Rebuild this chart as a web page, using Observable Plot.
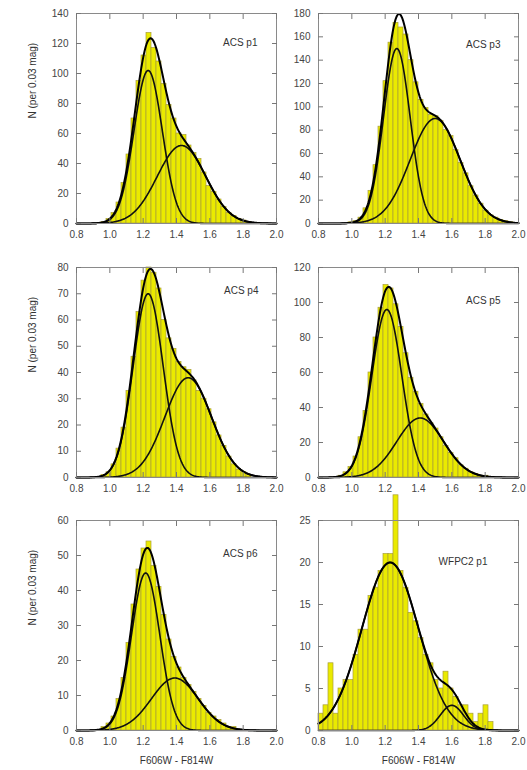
<!DOCTYPE html>
<html><head><meta charset="utf-8">
<script src="https://cdn.jsdelivr.net/npm/d3@7"></script>
<script src="https://cdn.jsdelivr.net/npm/@observablehq/plot@0.6"></script>
<style>
body{margin:0;background:#fff;}
#wrap{position:relative;width:527px;height:770px;overflow:hidden;font-family:"Liberation Sans",Arial,sans-serif;}
.panel{position:absolute;}
.panel svg{overflow:visible;}
</style></head><body><div id="wrap"></div>
<script>
// ---------- data ----------
const binLo = 0.8, binWidth = 0.03;
const xTicks = [0.8, 1.0, 1.2, 1.4, 1.6, 1.8, 2.0];
const xLabel = "F606W - F814W";
const yLabel = "N (per 0.03 mag)";
const panelNames = ["ACS p1", "ACS p3", "ACS p4", "ACS p5", "ACS p6", "WFPC2 p1"];
const yMax  = [140, 180, 80, 120, 60, 25];
const yStep = [20, 20, 10, 20, 10, 5];

// histogram counts, bins of 0.03 mag starting at 0.80
const countsP1 = [0,0,0,0,0,1,3,7,14,27,46,70,95,112,127,117,108,93,79,70,60,59,52,47,43,34,25,21,16,11,7,5,3,2,1,0,0,0,0,0];
const countsP3 = [0,0,0,0,0,0,1,2,5,13,28,50,83,122,155,172,168,162,140,121,106,99,93,92,88,80,75,63,52,43,32,24,17,11,7,5,3,2,1,0];
const countsP4 = [0,0,0,0,0,1,2,5,11,19,33,46,63,75,80,78,72,60,53,49,44,42,41,37,33,30,26,21,16,12,8,5,3,2,1,0,0,0,0,0];
const countsP5 = [0,0,0,0,1,3,6,12,23,38,60,80,97,110,108,99,86,71,57,49,42,36,31,28,23,18,14,11,7,5,3,2,1,1,0,0,0,0,0,0];
const countsP6 = [0,0,0,0,0,1,2,4,9,15,25,36,46,52,54,47,41,33,26,21,18,15,13,11,9,7,5,4,3,2,1,1,0,0,0,0,0,0,0,0];
const countsW1 = [2,3,8,2,5,6,6,9,12,12,16,17,19,21,21,28,19,17,14,13,11,9,8,6,5,7,5,4,3,3,2,1,2,3,1,0,0,0,0,0];

// two-Gaussian fits (peak height, mean, sigma)
const comp1Peak  = [102, 150, 70, 96, 45, 20];
const comp1Mean  = [1.23, 1.27, 1.23, 1.21, 1.215, 1.23];
const comp1Sigma = [0.085, 0.08, 0.09, 0.09, 0.085, 0.17];
const comp2Peak  = [52, 90, 38, 34, 15, 3];
const comp2Mean  = [1.43, 1.50, 1.47, 1.41, 1.39, 1.60];
const comp2Sigma = [0.145, 0.15, 0.14, 0.14, 0.14, 0.07];

const allCounts = [countsP1, countsP3, countsP4, countsP5, countsP6, countsW1];

// ---------- layout ----------
const colLeft = [0, 290], colML = [76, 28], colMR = [14, 9];
const rowTop = [0, 243, 497], rowMT = [13, 24, 23], rowMB = [20, 20, 40];
const labelOff = [[19, 32], [18, 34], [18, 26], [18, 36], [19, 36], [31, 44]];
const font = "'Liberation Sans', Arial, sans-serif";
const wrap = document.getElementById("wrap");

function gauss(a, m, s) { return x => a * Math.exp(-((x - m) ** 2) / (2 * s * s)); }

for (let k = 0; k < 6; k++) {
  const col = k % 2, row = Math.floor(k / 2);
  const bars = allCounts[k].map((n, i) => ({x1: binLo + i * binWidth, x2: binLo + (i + 1) * binWidth, n}));
  const f1 = gauss(comp1Peak[k], comp1Mean[k], comp1Sigma[k]);
  const f2 = gauss(comp2Peak[k], comp2Mean[k], comp2Sigma[k]);
  const curve = d3.range(0.8, 2.0001, 0.004).map(x => ({x, c1: f1(x), c2: f2(x), sum: f1(x) + f2(x)}));
  const yTicks = d3.range(0, yMax[k] + 1e-9, yStep[k]);
  const ml = colML[col], mr = colMR[col], mt = rowMT[row], mb = rowMB[row];
  const marks = [
    Plot.rectY(bars, {x1: "x1", x2: "x2", y: "n", fill: "#eaea00", stroke: "#a89e3a", strokeWidth: 0.7}),
    Plot.line(curve, {x: "x", y: "c1", stroke: "#111", strokeWidth: 1.6}),
    Plot.line(curve, {x: "x", y: "c2", stroke: "#111", strokeWidth: 1.6}),
    Plot.line(curve, {x: "x", y: "sum", stroke: "#000", strokeWidth: 2}),
    Plot.frame({stroke: "#8a8a8a", strokeWidth: 1}),
    Plot.axisX(xTicks, {anchor: "bottom", tickSize: -5, tickPadding: 12, tickFormat: d => d.toFixed(1), label: null, stroke: "#777"}),
    Plot.axisX(xTicks, {anchor: "top", tickSize: -5, tickFormat: () => "", label: null, stroke: "#777"}),
    Plot.axisY(yTicks, {anchor: "left", tickSize: -5, tickPadding: 13, tickFormat: d => String(d), label: null, stroke: "#777"}),
    Plot.axisY(yTicks, {anchor: "right", tickSize: -5, tickFormat: () => "", label: null, stroke: "#777"}),
    Plot.text([panelNames[k]], {frameAnchor: "top-right", dx: -labelOff[k][0], dy: labelOff[k][1], textAnchor: "end", lineAnchor: "bottom", fontSize: 10, fill: "#333"})
  ];
  if (col === 0) marks.push(Plot.text([yLabel], {frameAnchor: "left", dx: -44, rotate: -90, fontSize: 10, fill: "#333"}));
  if (row === 2) marks.push(Plot.text([xLabel], {frameAnchor: "bottom", dy: 33, fontSize: 10, fill: "#333"}));
  const p = Plot.plot({
    width: ml + 200 + mr, height: mt + 210 + mb,
    marginLeft: ml, marginRight: mr, marginTop: mt, marginBottom: mb,
    x: {domain: [0.8, 2.0], axis: null},
    y: {domain: [0, yMax[k]], axis: null},
    style: {fontFamily: font, fontSize: "10px", color: "#444", background: "transparent"},
    marks
  });
  const div = document.createElement("div");
  div.className = "panel";
  div.style.left = colLeft[col] + "px";
  div.style.top = rowTop[row] + "px";
  div.appendChild(p);
  wrap.appendChild(div);
}
</script></body></html>
